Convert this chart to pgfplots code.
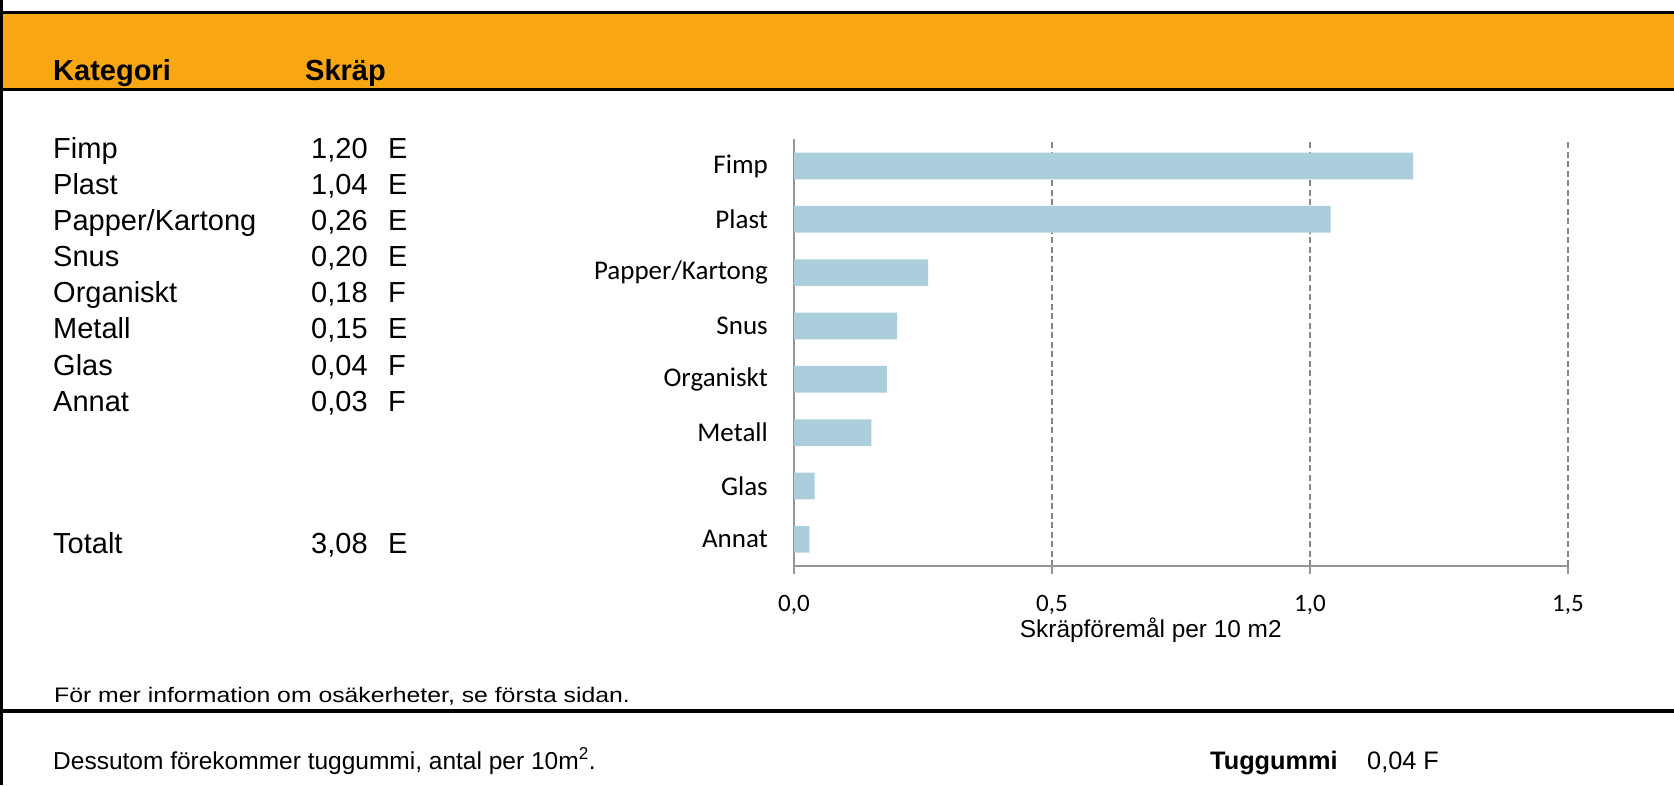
\documentclass[border=0pt]{standalone}
\usepackage{fontspec}
\setmainfont{Liberation Sans}
\newfontfamily\carlito{Carlito}
\usepackage{pgfplots}
\pgfplotsset{compat=1.18}
\definecolor{orangeband}{RGB}{249,166,19}
\definecolor{barblue}{RGB}{170,206,220}
\definecolor{gridgray}{RGB}{134,134,134}
\definecolor{axisgray}{RGB}{150,150,150}
\newcommand{\fs}[1]{\fontsize{#1}{#1}\selectfont}
\begin{document}
\begin{tikzpicture}[x=1pt,y=-1pt]
\fill[white] (0,0) rectangle (1674,785);
\path[use as bounding box] (0,0) rectangle (1674,785);
\fill[black] (0,10.5) rectangle (1674,13.5);
\fill[orangeband] (0,13.5) rectangle (1674,88);
\fill[black] (0,88) rectangle (1674,90.7);
\fill[black] (0,709) rectangle (1674,712.5);
\fill[black] (0,0) rectangle (2.7,785);
% header
\node[anchor=base west, inner sep=0, font=\fs{29}\bfseries] at (53,80) {Kategori};
\node[anchor=base west, inner sep=0, font=\fs{29}\bfseries] at (305,80) {Skräp};
% table
\foreach \name/\val/\gr/\yy in {Fimp/{1,20}/E/158, Plast/{1,04}/E/194, Papper\slash Kartong/{0,26}/E/230.5, Snus/{0,20}/E/266.5, Organiskt/{0,18}/F/302.5, Metall/{0,15}/E/338.5, Glas/{0,04}/F/375, Annat/{0,03}/F/411.5, Totalt/{3,08}/E/553}{
  \node[anchor=base west, inner sep=0, font=\fs{29}] at (53,\yy) {\name};
  \node[anchor=base west, inner sep=0, font=\fs{29}] at (311,\yy) {\val};
  \node[anchor=base west, inner sep=0, font=\fs{29}] at (388,\yy) {\gr};
}
% footnote
\node[anchor=base west, inner sep=0, font=\fs{21}] at (54,702) {\scalebox{1.18}[1]{För mer information om osäkerheter, se första sidan.}};
\node[anchor=base west, inner sep=0, font=\fs{24.5}] at (53,769) {Dessutom förekommer tuggummi, antal per 10m\textsuperscript{2}.};
\node[anchor=base west, inner sep=0, font=\fs{25.3}\bfseries] at (1210,769) {Tuggummi};
\node[anchor=base west, inner sep=0, font=\fs{25.3}] at (1367,769) {0,04 F};
% chart
\begin{axis}[
  at={(794pt,-566pt)}, anchor=south west,
  scale only axis, width=774pt, height=426.7pt,
  xbar, bar width=0.5,
  xmin=0, xmax=1.5, ymin=-0.5, ymax=7.5,
  ytick={0,...,7},
  yticklabels={Annat,Glas,Metall,Organiskt,Snus,Papper/Kartong,Plast,Fimp},
  xtick={0,0.5,1,1.5},
  axis lines=left,
  axis line style={-, axisgray, line width=2.5pt},
  tick align=outside,
  major tick length=8pt,
  xtick style={axisgray, line width=2pt},
  ytick style={draw=none},
  xmajorgrids,
  major grid style={gridgray, line width=2pt, dash pattern=on 6pt off 3.5pt},
  /pgf/number format/.cd, use comma, fixed, fixed zerofill, precision=1, assume math mode=true,
  /pgfplots/.cd,
  y tick label style={font=\carlito\fs{27}, anchor=east, inner sep=0pt, xshift=-18pt},
  x tick label style={font=\carlito\fs{25}, anchor=north, inner sep=0pt, yshift=-21pt},
  xlabel={Skräpföremål per 10 m2},
  xlabel style={at={(axis description cs:0.461,0)}, anchor=center, yshift=-64pt, font=\fs{24.4}},
]
\addplot[fill=barblue, draw=none] coordinates {(1.20,7) (1.04,6) (0.26,5) (0.20,4) (0.18,3) (0.15,2) (0.04,1) (0.03,0)};
\end{axis}
\end{tikzpicture}
\end{document}
